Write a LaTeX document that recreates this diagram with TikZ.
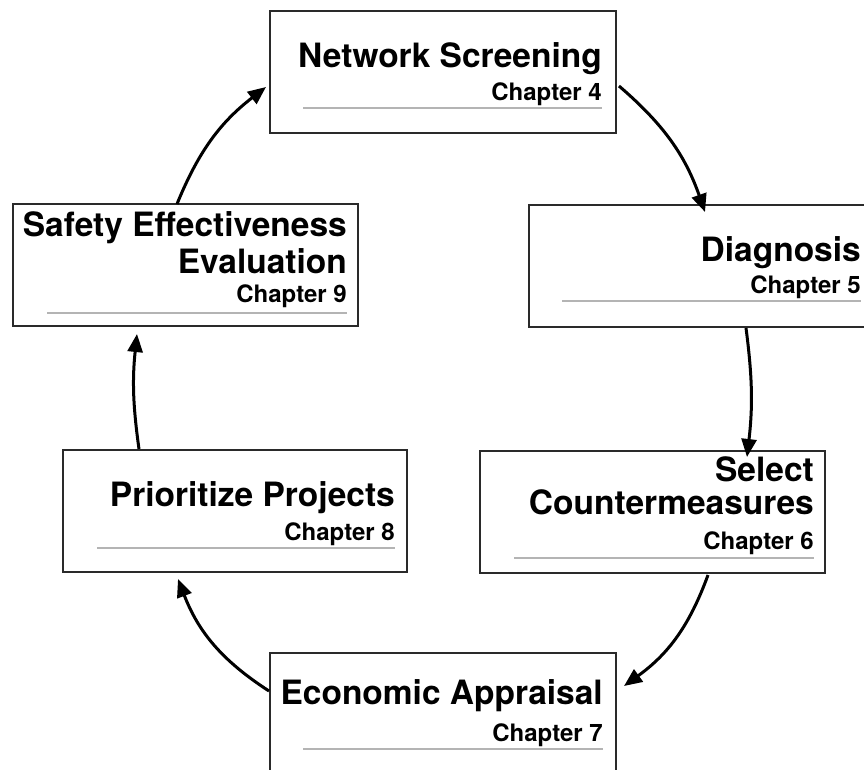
\documentclass[tikz,border=0pt]{standalone}
\usepackage{fontspec}
\setmainfont{TeX Gyre Heros}
\usetikzlibrary{calc,arrows.meta}
\definecolor{boxc}{HTML}{2A2A2A}
\definecolor{rulec}{HTML}{B4B4B4}
\tikzset{
  box/.style={draw=boxc, line width=2pt, minimum width=346pt, minimum height=122pt, inner sep=0pt, anchor=north west},
  ttl/.style={anchor=base east, inner sep=0pt, font=\fontsize{33.5}{38}\selectfont\bfseries},
  chap/.style={anchor=base east, inner sep=0pt, font=\fontsize{24}{28}\selectfont\bfseries},
  rulel/.style={draw=rulec, line width=1.5pt},
  arr/.style={line width=3pt, -{Triangle[length=18pt,width=15pt]}}
}
\begin{document}
\begin{tikzpicture}[x=1pt,y=1pt]
\useasboundingbox (0,0) rectangle (864,-769);
\fill[white] (0,0) rectangle (864,-769);
\clip (0,0) rectangle (864,-769);
% boxes
\node[box] (b1) at (269,-10) {};
\node[box] (b2) at (528,-204) {};
\node[box, minimum width=345pt] (b3) at (479,-450) {};
\node[box] (b4) at (269,-652) {};
\node[box, minimum width=344pt] (b5) at (62,-449) {};
\node[box, minimum width=345pt] (b6) at (12,-203) {};
% box 1
\node[ttl] (t1) at ($(b1.north east)+(-15,-57)$) {Network Screening};
\node[chap] (c1) at ($(b1.north east)+(-15,-90)$) {Chapter 4};
\draw[rulel] ($(b1.north west)+(34,-98)$) -- ($(b1.north east)+(-15,-98)$);
% box 2
\node[ttl] (t2) at ($(b2.north east)+(-15,-57)$) {Diagnosis};
\node[chap] (c2) at ($(b2.north east)+(-15,-89)$) {Chapter 5};
\draw[rulel] ($(b2.north west)+(34,-97)$) -- ($(b2.north east)+(-15,-97)$);
% box 3
\node[ttl] (t3a) at ($(b3.north east)+(-12,-31)$) {Select};
\node[ttl] (t3b) at ($(b3.north east)+(-12,-64)$) {Countermeasures};
\node[chap] (c3) at ($(b3.north east)+(-12,-99)$) {Chapter 6};
\draw[rulel] ($(b3.north west)+(35,-108)$) -- ($(b3.north east)+(-12,-108)$);
% box 4
\node[ttl] (t4) at ($(b4.north east)+(-14,-52)$) {Economic Appraisal};
\node[chap] (c4) at ($(b4.north east)+(-14,-89)$) {Chapter 7};
\draw[rulel] ($(b4.north west)+(34,-97)$) -- ($(b4.north east)+(-14,-97)$);
% box 5
\node[ttl] (t5) at ($(b5.north east)+(-13,-57)$) {Prioritize Projects};
\node[chap] (c5) at ($(b5.north east)+(-13,-91)$) {Chapter 8};
\draw[rulel] ($(b5.north west)+(35,-99)$) -- ($(b5.north east)+(-13,-99)$);
% box 6
\node[ttl] (t6a) at ($(b6.north east)+(-12,-33)$) {Safety Effectiveness};
\node[ttl] (t6b) at ($(b6.north east)+(-12,-70)$) {Evaluation};
\node[chap] (c6) at ($(b6.north east)+(-12,-99)$) {Chapter 9};
\draw[rulel] ($(b6.north west)+(35,-110)$) -- ($(b6.north east)+(-12,-110)$);
% arrows
\draw[arr] ($(b1.north east)+(2,-76)$) to[bend left=15] ($(b2.north west)+(177,-8)$);
\draw[arr] ($(b2.south west)+(218,0)$) to[bend left=7] ($(b3.north west)+(268,-7)$);
\draw[arr] ($(b3.south west)+(229,-1)$) to[bend left=17] ($(b4.north east)+(7,-34)$);
\draw[arr] ($(b4.north west)+(0,-39)$) to[bend left=18] ($(b5.south west)+(116,-6)$);
\draw[arr] ($(b5.north west)+(77,0)$) to[bend left=7] ($(b6.south west)+(125,-7)$);
\draw[arr] ($(b6.north west)+(165,-1)$) to[bend left=15] ($(b1.north west)+(-3,-77)$);
\end{tikzpicture}
\end{document}
